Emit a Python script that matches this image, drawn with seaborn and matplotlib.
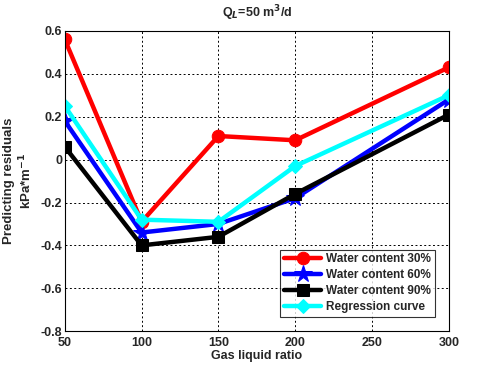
import matplotlib
matplotlib.use("Agg")
import matplotlib.pyplot as plt
import seaborn as sns
import pandas as pd

# data
gas_liquid_ratio = [50, 100, 150, 200, 300]
water_30 = [0.56, -0.29, 0.11, 0.09, 0.43]
water_60 = [0.18, -0.34, -0.30, -0.18, 0.28]
water_90 = [0.06, -0.40, -0.36, -0.16, 0.21]
regression = [0.25, -0.28, -0.29, -0.03, 0.30]

series_names = ['Water content 30%', 'Water content 60%',
                'Water content 90%', 'Regression curve']
x_ticks = [50, 100, 150, 200, 250, 300]
y_ticks = [-0.8, -0.6, -0.4, -0.2, 0, 0.2, 0.4, 0.6]

df = pd.DataFrame({
    'ratio': gas_liquid_ratio * 4,
    'residual': water_30 + water_60 + water_90 + regression,
    'series': [n for n in series_names for _ in gas_liquid_ratio],
})

sns.set_style('white')
plt.rcParams['font.family'] = ['Liberation Sans', 'DejaVu Sans']
plt.rcParams['font.weight'] = 'bold'

fig = plt.figure(figsize=(4.8, 3.68), dpi=100)
ax = fig.add_axes([0.135, 0.1, 0.8, 0.816])

styles = {
    'Water content 30%': ('red', 'o', 9),
    'Water content 60%': ('blue', '*', 13),
    'Water content 90%': ('black', 's', 8),
    'Regression curve': ('cyan', 'D', 7),
}
for name in series_names:
    color, marker, ms = styles[name]
    sub = df[df['series'] == name]
    sns.lineplot(data=sub, x='ratio', y='residual', ax=ax, color=color,
                 marker=marker, markersize=ms, linewidth=3.2,
                 markeredgecolor=color, label=name)

ax.set_xlim(50, 300)
ax.set_ylim(-0.8, 0.6)
ax.set_xticks(x_ticks)
ax.set_yticks(y_ticks)
ax.set_xticklabels([str(t) for t in x_ticks])
ax.set_yticklabels(['-0.8', '-0.6', '-0.4', '-0.2', '0', '0.2', '0.4', '0.6'])
ax.tick_params(labelsize=9, length=3, direction='in', pad=2)
ax.tick_params(axis='x', pad=4)
ax.grid(True, color='black', linestyle=(0, (2, 2.5)), linewidth=0.7)
for s in ax.spines.values():
    s.set_color('black')
    s.set_linewidth(0.8)

ax.set_xlabel('Gas liquid ratio', fontsize=9, fontweight='bold', labelpad=1)
ax.set_ylabel('Predicting residuals\nkPa*m$^{-1}$', fontsize=9.5,
              fontweight='bold', labelpad=4)
ax.set_title('Q$_L$=50 m$^3$/d', fontsize=9, fontweight='bold', pad=10)

leg = ax.legend(loc='lower right', fontsize=8.5, frameon=True, fancybox=False,
                borderpad=0.3, labelspacing=0.35, handlelength=3.2,
                handletextpad=0.4, borderaxespad=1.2)
leg.get_frame().set_edgecolor('black')
leg.get_frame().set_linewidth(0.8)
for t in leg.get_texts():
    t.set_fontweight('bold')

fig.savefig('out.png', dpi=100)
